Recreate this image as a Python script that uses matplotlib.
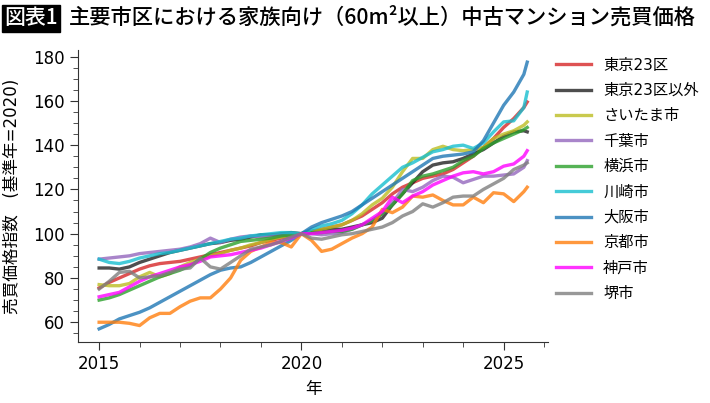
import numpy as np
import matplotlib
matplotlib.use("Agg")
import matplotlib.pyplot as plt
from matplotlib.ticker import MultipleLocator

plt.rcParams['font.family'] = ['DejaVu Sans', 'Noto Sans CJK JP']

# quarterly readings (year-month), last point Aug 2025
dates = [f"{y}-{m:02d}" for y in range(2015, 2025) for m in (1, 4, 7, 10)] + \
        ["2025-01", "2025-04", "2025-07", "2025-08"]

names = ["東京23区", "東京23区以外", "さいたま市", "千葉市", "横浜市",
         "川崎市", "大阪市", "京都市", "神戸市", "堺市"]

tokyo23 = [75.5, 78, 80, 82, 84, 85.5, 86.5, 87, 87.5, 88.5, 89.5, 90.5,
           91.5, 92.5, 93.5, 94.5, 96, 97, 98, 99, 100, 101, 102, 103,
           104, 106, 108, 111, 114, 118, 121, 123, 125, 126, 127, 129,
           132, 135, 139, 143, 148, 152, 157, 159.5]
tokyo_other = [84.5, 84.5, 84, 85, 87, 88.5, 90, 91.5, 92.5, 93.5, 94.5, 95.5,
               96, 97, 97.5, 98.5, 99.5, 99.5, 100, 100.5, 100, 101, 101.5, 102,
               102, 103, 104, 105, 107, 113, 118, 123, 128, 131, 132, 132.5,
               134, 136, 138, 141, 144, 146, 146.5, 146]
saitama = [77, 76.5, 76.5, 77.5, 80.5, 82.5, 80.5, 82, 85, 87, 88.5, 90,
           91, 92.5, 93.5, 95, 96, 97.5, 98.5, 99.5, 100, 101, 102, 103,
           104, 106, 109, 113, 116, 121, 128, 134, 134, 138, 139.5, 138,
           137.5, 138, 139, 143, 145, 146.5, 149, 150.5]
chiba = [88.5, 89, 89.5, 90, 91, 91.5, 92, 92.5, 93, 94, 95.5, 98,
         96, 97.5, 98.5, 99, 98.5, 99, 99.5, 100, 100, 100, 99.5, 100,
         100.5, 102, 104, 106, 109, 114, 120, 119, 121, 124, 126, 125.5,
         123, 124.5, 126, 126, 126.5, 127, 130, 133]
yokohama = [70, 71, 72.5, 74.5, 76.5, 78.5, 80.5, 82, 83.5, 85.5, 88.5, 91.5,
            93.5, 95, 96.5, 97, 97.5, 98, 99, 99.5, 100, 100.5, 100.5, 101,
            101, 102, 104, 106, 109, 113, 118, 124, 126, 127, 128.5, 130,
            133, 135, 138.5, 141, 143, 145, 147, 148]
kawasaki = [88.5, 87, 86.5, 87.5, 89, 90, 91, 91.5, 92.5, 93.5, 94.5, 95.5,
            96.5, 97.5, 98, 99, 99.5, 100, 100.5, 100.5, 100, 102, 103.5, 104.5,
            106, 109, 113, 118, 122, 126, 130, 132, 134.5, 137, 138, 139.5,
            140, 138.5, 141, 146, 150.5, 151, 157, 164]
osaka = [57, 59, 61.5, 63, 64.5, 66.5, 69, 71.5, 74, 76.5, 79, 81.5,
         83.5, 84.5, 85, 87, 89.5, 92, 94.5, 97, 100, 103, 105, 106.5,
         108, 110, 113, 116, 119, 122, 125, 128, 131, 134, 135, 135.5,
         136, 137, 142, 150, 158, 164, 172, 177.5]
kyoto = [60, 60, 60, 59.5, 58.5, 62, 64, 64, 67, 69.5, 71, 71,
         75, 80, 88, 92, 94, 96, 96, 94, 100, 97, 92, 93,
         95.5, 98, 100, 103, 111, 109.5, 112, 117, 116.5, 117.5, 115, 113,
         113, 116.5, 114, 118.5, 118, 114.5, 119, 121]
kobe = [71.5, 72.5, 73.5, 76, 78.5, 80.5, 82, 83.5, 85, 86, 87.5, 89.5,
        90, 90.5, 91.5, 92.5, 93.5, 95, 96.5, 98, 100, 100, 100.5, 101,
        101.5, 102.5, 104, 107, 110, 116.5, 114, 117, 119, 122, 124, 126,
        127.5, 128, 127, 128, 130.5, 131.5, 135, 137.5]
sakai = [75, 78.5, 82.5, 83, 80, 80.5, 81, 82.5, 84, 84.5, 89, 85,
         84, 87, 90, 93, 94, 95, 96.5, 98.5, 100, 98, 97.5, 98.5,
         99.5, 100, 101, 102, 103, 105, 108, 110, 113.5, 112, 114, 116.5,
         117, 117, 120, 122.5, 125, 129, 131, 132]

series = [tokyo23, tokyo_other, saitama, chiba, yokohama,
          kawasaki, osaka, kyoto, kobe, sakai]
colors = ["#d62728", "#222222", "#bcbd22", "#9467bd", "#2ca02c",
          "#17becf", "#1f77b4", "#ff7f0e", "#ff00ff", "#7f7f7f"]

t = np.array([int(d[:4]) + (int(d[5:]) - 1) / 12 for d in dates])

fig = plt.figure(figsize=(7.1, 4.03), dpi=100)
ax = fig.add_axes([0.110, 0.151, 0.662, 0.725])

for name, vals, c in zip(names, series, colors):
    ax.plot(t, vals, color=c, lw=2.4, alpha=0.8, label=name)

ax.set_xlim(2014.48, 2026.1)
ax.set_ylim(51, 183)
ax.xaxis.set_major_locator(MultipleLocator(5))
ax.xaxis.set_minor_locator(MultipleLocator(1))
ax.yaxis.set_major_locator(MultipleLocator(20))
ax.yaxis.set_minor_locator(MultipleLocator(5))
ax.tick_params(which='major', length=6, labelsize=12, color='#333333')
ax.tick_params(which='minor', length=3.5, color='#333333')
for s in ['top', 'right']:
    ax.spines[s].set_visible(False)
for s in ['left', 'bottom']:
    ax.spines[s].set_color('#333333')

ax.set_xlabel("年", fontsize=12, labelpad=5)
ax.set_ylabel("売買価格指数　(基準年=2020)", fontsize=12, labelpad=9)

ax.legend(loc='upper left', bbox_to_anchor=(1.0, 1.0), frameon=False,
          fontsize=11, handlelength=2.3, labelspacing=0.68, handletextpad=0.8,
          borderaxespad=0.1)

fig.text(0.006, 0.955, "図表1", family='Noto Sans CJK JP', fontsize=15,
         fontweight='medium', color='white', va='center', ha='left',
         bbox=dict(boxstyle='square,pad=0.12', fc='black', ec='black'))
fig.text(0.097, 0.955, "主要市区における家族向け（60m²以上）中古マンション売買価格",
         family='Noto Sans CJK JP', fontsize=15.3, fontweight='medium',
         va='center', ha='left')

fig.savefig("out.png", dpi=100)
